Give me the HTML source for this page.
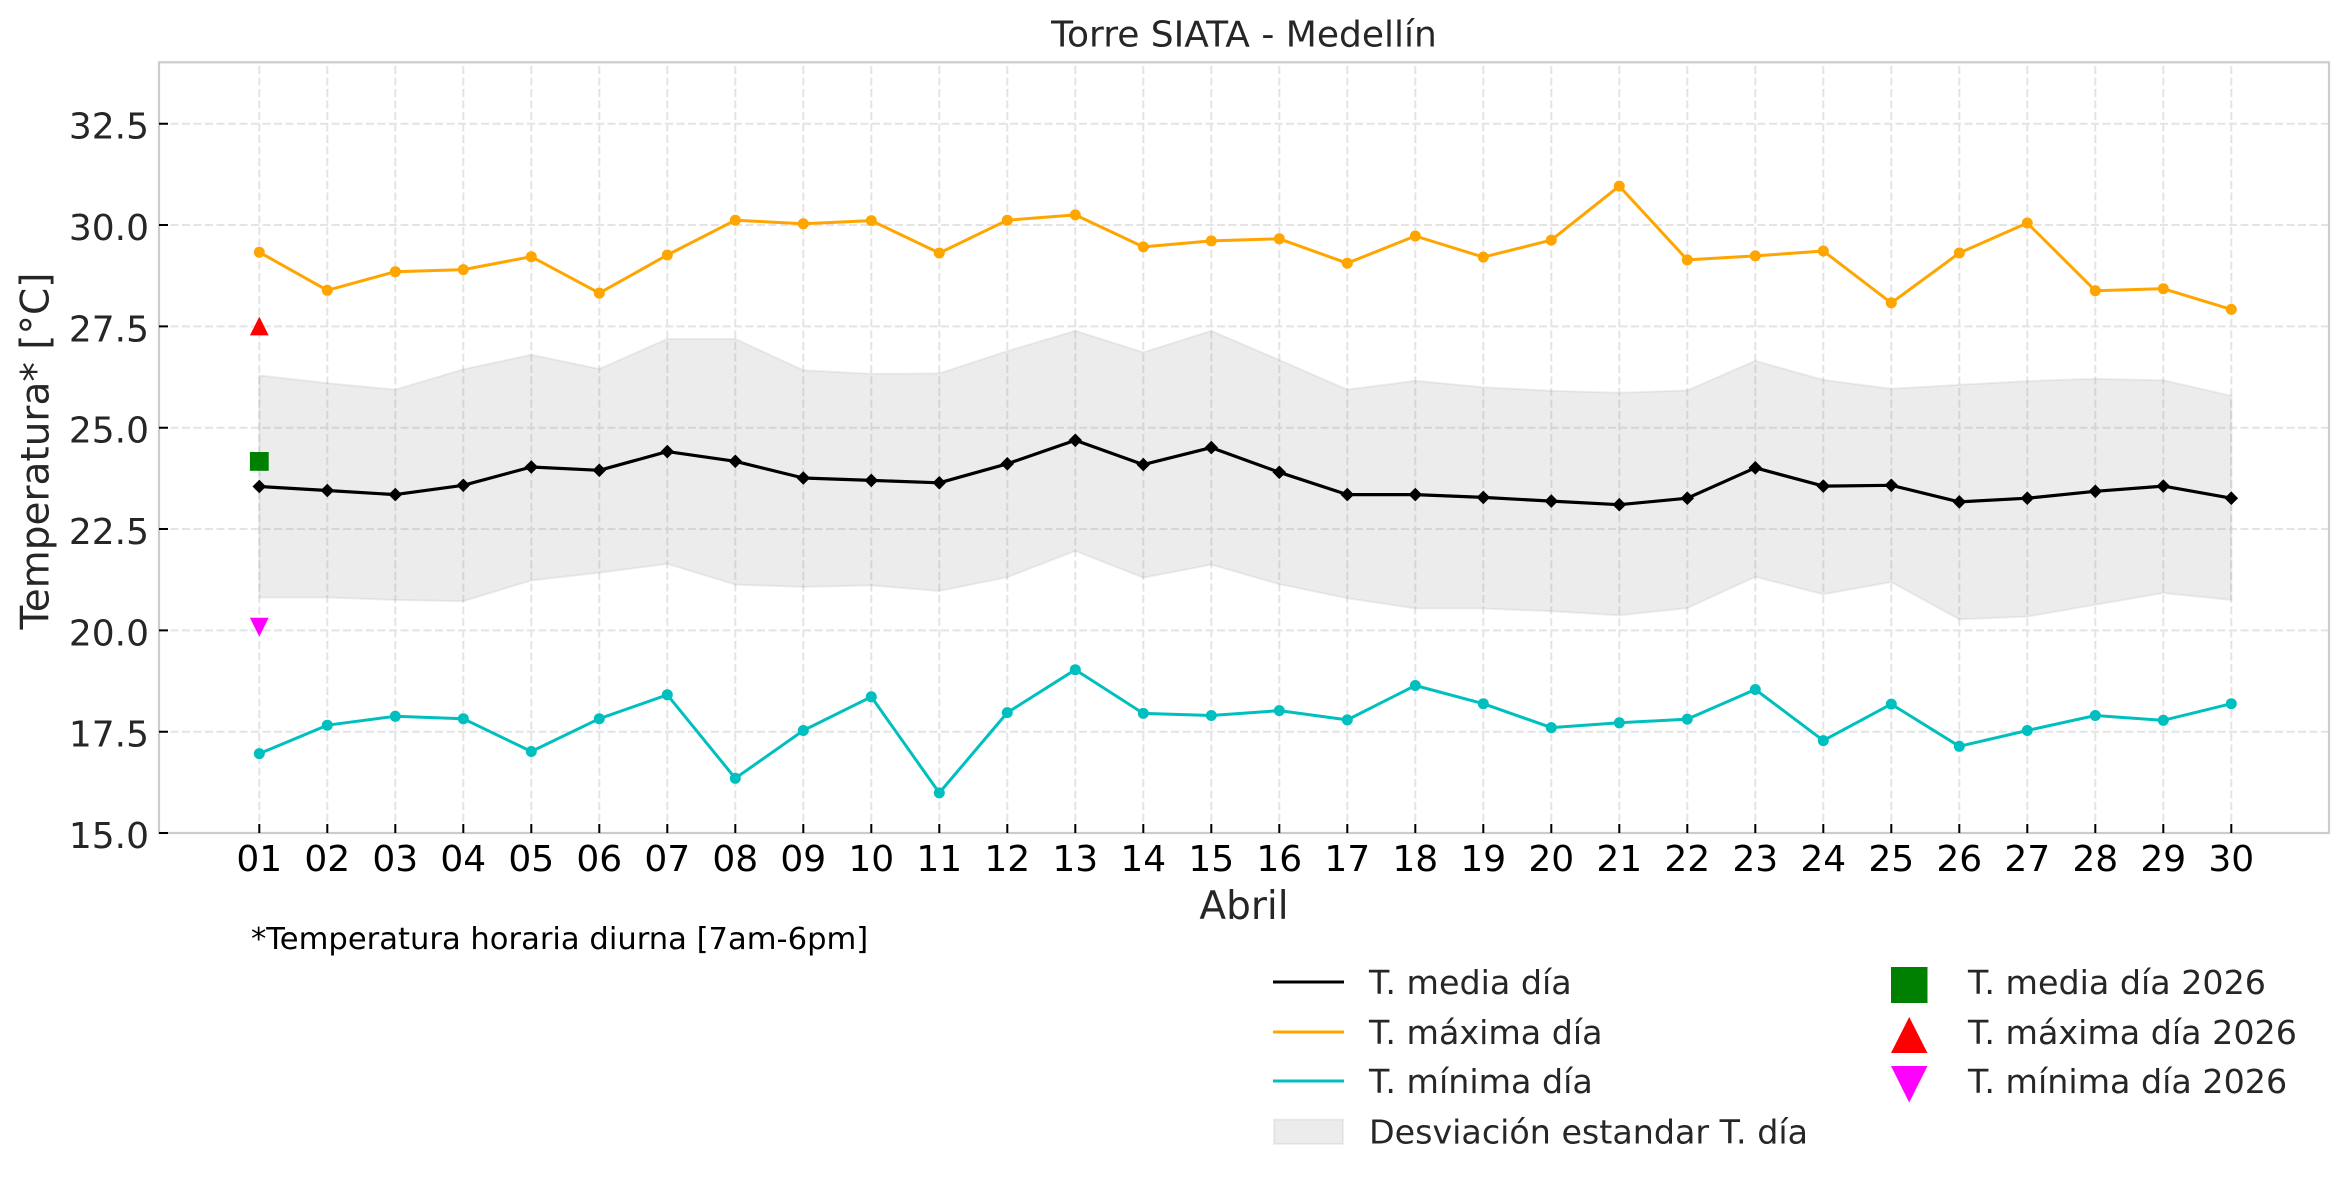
<!DOCTYPE html>
<html><head><meta charset="utf-8"><style>
html,body{margin:0;padding:0;background:#fff;}
svg{display:block;font-family:"DejaVu Sans","Liberation Sans",sans-serif;}
</style></head><body>
<svg width="2349" height="1183" viewBox="0 0 2349 1183" xmlns="http://www.w3.org/2000/svg">
<defs>
<path id="dm" d="M0,-6.8 L6.8,0 L0,6.8 L-6.8,0Z"/>
<circle id="oc" cx="0" cy="0" r="5.5"/>
</defs>
<rect width="2349" height="1183" fill="#fff"/>
<!-- grid -->
<g stroke="#e4e4e4" stroke-width="2" stroke-dasharray="8,3.5" fill="none">
<path d="M159,731.7H2329M159,630.35H2329M159,529.03H2329M159,427.7H2329M159,326.4H2329M159,225.05H2329M159,123.7H2329"/>
<path d="M259.3,833V62M327.3,833V62M395.3,833V62M463.3,833V62M531.3,833V62M599.3,833V62M667.3,833V62M735.3,833V62M803.3,833V62M871.3,833V62M939.3,833V62M1007.3,833V62M1075.3,833V62M1143.3,833V62M1211.3,833V62M1279.3,833V62M1347.3,833V62M1415.3,833V62M1483.3,833V62M1551.3,833V62M1619.3,833V62M1687.3,833V62M1755.3,833V62M1823.3,833V62M1891.3,833V62M1959.3,833V62M2027.3,833V62M2095.3,833V62M2163.3,833V62M2231.3,833V62"/>
</g>
<!-- band -->
<polygon fill="rgba(128,128,128,0.15)" stroke="rgba(128,128,128,0.12)" stroke-width="2" points="259.3,375.4 327.3,383.1 395.3,389.6 463.3,369.3 531.3,354.8 599.3,368.9 667.3,338.9 735.3,338.9 803.3,370.2 871.3,373.8 939.3,373.4 1007.3,351.1 1075.3,330.8 1143.3,352.3 1211.3,330.8 1279.3,360.0 1347.3,389.6 1415.3,380.7 1483.3,387.2 1551.3,390.8 1619.3,392.8 1687.3,390.4 1755.3,360.8 1823.3,379.9 1891.3,388.8 1959.3,384.7 2027.3,381.1 2095.3,378.7 2163.3,380.3 2231.3,395.7 2231.3,600.0 2163.3,593.1 2095.3,604.8 2027.3,616.6 1959.3,619.4 1891.3,582.1 1823.3,594.3 1755.3,576.9 1687.3,608.1 1619.3,615.4 1551.3,611.3 1483.3,608.5 1415.3,608.5 1347.3,598.3 1279.3,584.2 1211.3,564.7 1143.3,577.7 1075.3,550.9 1007.3,577.3 939.3,591.0 871.3,585.4 803.3,587.0 735.3,584.6 667.3,563.9 599.3,572.8 531.3,580.5 463.3,601.2 395.3,600.0 327.3,597.5 259.3,597.5"/>
<!-- spines -->
<rect x="159" y="62.3" width="2170" height="770.7" fill="none" stroke="#cccccc" stroke-width="2.2"/>
<!-- ticks -->
<g stroke="#000" stroke-width="2">
<path d="M159,833h9M159,731.7h9M159,630.35h9M159,529.03h9M159,427.7h9M159,326.4h9M159,225.05h9M159,123.7h9"/>
<path d="M259.3,833v-9M327.3,833v-9M395.3,833v-9M463.3,833v-9M531.3,833v-9M599.3,833v-9M667.3,833v-9M735.3,833v-9M803.3,833v-9M871.3,833v-9M939.3,833v-9M1007.3,833v-9M1075.3,833v-9M1143.3,833v-9M1211.3,833v-9M1279.3,833v-9M1347.3,833v-9M1415.3,833v-9M1483.3,833v-9M1551.3,833v-9M1619.3,833v-9M1687.3,833v-9M1755.3,833v-9M1823.3,833v-9M1891.3,833v-9M1959.3,833v-9M2027.3,833v-9M2095.3,833v-9M2163.3,833v-9M2231.3,833v-9"/>
</g>
<!-- max -->
<polyline fill="none" stroke="#ffa500" stroke-width="3" stroke-linejoin="round" points="259.3,252.2 327.3,290.3 395.3,271.7 463.3,269.6 531.3,256.7 599.3,293.1 667.3,255.0 735.3,220.2 803.3,223.8 871.3,220.6 939.3,253.0 1007.3,220.2 1075.3,214.9 1143.3,246.9 1211.3,240.9 1279.3,238.8 1347.3,263.2 1415.3,236.0 1483.3,257.1 1551.3,240.1 1619.3,186.1 1687.3,259.9 1755.3,255.9 1823.3,251.0 1891.3,302.9 1959.3,253.0 2027.3,223.0 2095.3,290.7 2163.3,288.7 2231.3,309.4"/>
<g fill="#ffa500">
<use href="#oc" x="259.3" y="252.2"/><use href="#oc" x="327.3" y="290.3"/><use href="#oc" x="395.3" y="271.7"/><use href="#oc" x="463.3" y="269.6"/><use href="#oc" x="531.3" y="256.7"/><use href="#oc" x="599.3" y="293.1"/><use href="#oc" x="667.3" y="255.0"/><use href="#oc" x="735.3" y="220.2"/><use href="#oc" x="803.3" y="223.8"/><use href="#oc" x="871.3" y="220.6"/><use href="#oc" x="939.3" y="253.0"/><use href="#oc" x="1007.3" y="220.2"/><use href="#oc" x="1075.3" y="214.9"/><use href="#oc" x="1143.3" y="246.9"/><use href="#oc" x="1211.3" y="240.9"/><use href="#oc" x="1279.3" y="238.8"/><use href="#oc" x="1347.3" y="263.2"/><use href="#oc" x="1415.3" y="236.0"/><use href="#oc" x="1483.3" y="257.1"/><use href="#oc" x="1551.3" y="240.1"/><use href="#oc" x="1619.3" y="186.1"/><use href="#oc" x="1687.3" y="259.9"/><use href="#oc" x="1755.3" y="255.9"/><use href="#oc" x="1823.3" y="251.0"/><use href="#oc" x="1891.3" y="302.9"/><use href="#oc" x="1959.3" y="253.0"/><use href="#oc" x="2027.3" y="223.0"/><use href="#oc" x="2095.3" y="290.7"/><use href="#oc" x="2163.3" y="288.7"/><use href="#oc" x="2231.3" y="309.4"/>
</g>
<!-- mean -->
<polyline fill="none" stroke="#000" stroke-width="3.2" stroke-linejoin="round" points="259.3,486.5 327.3,490.5 395.3,494.6 463.3,485.3 531.3,467.0 599.3,470.3 667.3,451.6 735.3,461.3 803.3,478.0 871.3,480.4 939.3,482.8 1007.3,463.8 1075.3,440.3 1143.3,464.6 1211.3,447.6 1279.3,472.3 1347.3,494.6 1415.3,494.6 1483.3,497.4 1551.3,501.1 1619.3,504.7 1687.3,498.2 1755.3,467.8 1823.3,486.1 1891.3,485.3 1959.3,501.9 2027.3,498.2 2095.3,491.3 2163.3,486.1 2231.3,498.2"/>
<g fill="#000">
<use href="#dm" x="259.3" y="486.5"/><use href="#dm" x="327.3" y="490.5"/><use href="#dm" x="395.3" y="494.6"/><use href="#dm" x="463.3" y="485.3"/><use href="#dm" x="531.3" y="467.0"/><use href="#dm" x="599.3" y="470.3"/><use href="#dm" x="667.3" y="451.6"/><use href="#dm" x="735.3" y="461.3"/><use href="#dm" x="803.3" y="478.0"/><use href="#dm" x="871.3" y="480.4"/><use href="#dm" x="939.3" y="482.8"/><use href="#dm" x="1007.3" y="463.8"/><use href="#dm" x="1075.3" y="440.3"/><use href="#dm" x="1143.3" y="464.6"/><use href="#dm" x="1211.3" y="447.6"/><use href="#dm" x="1279.3" y="472.3"/><use href="#dm" x="1347.3" y="494.6"/><use href="#dm" x="1415.3" y="494.6"/><use href="#dm" x="1483.3" y="497.4"/><use href="#dm" x="1551.3" y="501.1"/><use href="#dm" x="1619.3" y="504.7"/><use href="#dm" x="1687.3" y="498.2"/><use href="#dm" x="1755.3" y="467.8"/><use href="#dm" x="1823.3" y="486.1"/><use href="#dm" x="1891.3" y="485.3"/><use href="#dm" x="1959.3" y="501.9"/><use href="#dm" x="2027.3" y="498.2"/><use href="#dm" x="2095.3" y="491.3"/><use href="#dm" x="2163.3" y="486.1"/><use href="#dm" x="2231.3" y="498.2"/>
</g>
<!-- min -->
<polyline fill="none" stroke="#00bfbf" stroke-width="3" stroke-linejoin="round" points="259.3,753.6 327.3,725.2 395.3,716.3 463.3,718.7 531.3,751.5 599.3,718.7 667.3,694.8 735.3,778.3 803.3,730.5 871.3,696.8 939.3,792.9 1007.3,712.6 1075.3,669.7 1143.3,713.4 1211.3,715.5 1279.3,710.6 1347.3,719.9 1415.3,685.5 1483.3,703.7 1551.3,727.6 1619.3,722.8 1687.3,719.1 1755.3,689.5 1823.3,740.6 1891.3,704.1 1959.3,746.3 2027.3,730.5 2095.3,715.5 2163.3,720.3 2231.3,703.7"/>
<g fill="#00bfbf">
<use href="#oc" x="259.3" y="753.6"/><use href="#oc" x="327.3" y="725.2"/><use href="#oc" x="395.3" y="716.3"/><use href="#oc" x="463.3" y="718.7"/><use href="#oc" x="531.3" y="751.5"/><use href="#oc" x="599.3" y="718.7"/><use href="#oc" x="667.3" y="694.8"/><use href="#oc" x="735.3" y="778.3"/><use href="#oc" x="803.3" y="730.5"/><use href="#oc" x="871.3" y="696.8"/><use href="#oc" x="939.3" y="792.9"/><use href="#oc" x="1007.3" y="712.6"/><use href="#oc" x="1075.3" y="669.7"/><use href="#oc" x="1143.3" y="713.4"/><use href="#oc" x="1211.3" y="715.5"/><use href="#oc" x="1279.3" y="710.6"/><use href="#oc" x="1347.3" y="719.9"/><use href="#oc" x="1415.3" y="685.5"/><use href="#oc" x="1483.3" y="703.7"/><use href="#oc" x="1551.3" y="727.6"/><use href="#oc" x="1619.3" y="722.8"/><use href="#oc" x="1687.3" y="719.1"/><use href="#oc" x="1755.3" y="689.5"/><use href="#oc" x="1823.3" y="740.6"/><use href="#oc" x="1891.3" y="704.1"/><use href="#oc" x="1959.3" y="746.3"/><use href="#oc" x="2027.3" y="730.5"/><use href="#oc" x="2095.3" y="715.5"/><use href="#oc" x="2163.3" y="720.3"/><use href="#oc" x="2231.3" y="703.7"/>
</g>
<!-- 2026 markers -->
<polygon fill="#ff0000" points="259.3,316.6 249.9,335.4 268.7,335.4"/>
<rect x="249.9" y="452" width="18.8" height="18.8" fill="#008000"/>
<polygon fill="#ff00ff" points="249.9,617.8 268.7,617.8 259.3,636.6"/>
<!-- y tick labels -->
<g font-size="36" fill="#262626" text-anchor="end">
<text x="149" y="848">15.0</text>
<text x="149" y="746.7">17.5</text>
<text x="149" y="645.4">20.0</text>
<text x="149" y="544">22.5</text>
<text x="149" y="442.7">25.0</text>
<text x="149" y="341.4">27.5</text>
<text x="149" y="240">30.0</text>
<text x="149" y="138.7">32.5</text>
</g>
<!-- x tick labels -->
<g font-size="36" fill="#000" text-anchor="middle">
<text x="259.3" y="871">01</text><text x="327.3" y="871">02</text><text x="395.3" y="871">03</text><text x="463.3" y="871">04</text><text x="531.3" y="871">05</text><text x="599.3" y="871">06</text><text x="667.3" y="871">07</text><text x="735.3" y="871">08</text><text x="803.3" y="871">09</text><text x="871.3" y="871">10</text><text x="939.3" y="871">11</text><text x="1007.3" y="871">12</text><text x="1075.3" y="871">13</text><text x="1143.3" y="871">14</text><text x="1211.3" y="871">15</text><text x="1279.3" y="871">16</text><text x="1347.3" y="871">17</text><text x="1415.3" y="871">18</text><text x="1483.3" y="871">19</text><text x="1551.3" y="871">20</text><text x="1619.3" y="871">21</text><text x="1687.3" y="871">22</text><text x="1755.3" y="871">23</text><text x="1823.3" y="871">24</text><text x="1891.3" y="871">25</text><text x="1959.3" y="871">26</text><text x="2027.3" y="871">27</text><text x="2095.3" y="871">28</text><text x="2163.3" y="871">29</text><text x="2231.3" y="871">30</text>
</g>
<!-- title & labels -->
<text x="1244" y="46.5" font-size="36" fill="#262626" text-anchor="middle">Torre SIATA - Medellín</text>
<text x="1244" y="919" font-size="39" fill="#262626" text-anchor="middle">Abril</text>
<text transform="translate(48.5,451) rotate(-90)" font-size="39" fill="#262626" text-anchor="middle">Temperatura* [°C]</text>
<text x="251" y="949" font-size="30.6" fill="#000">*Temperatura horaria diurna [7am-6pm]</text>
<!-- legend -->
<g font-size="33.3" fill="#262626">
<line x1="1273" y1="982" x2="1344" y2="982" stroke="#000" stroke-width="3"/>
<text x="1369" y="994">T. media día</text>
<line x1="1273" y1="1032" x2="1344" y2="1032" stroke="#ffa500" stroke-width="3"/>
<text x="1369" y="1044">T. máxima día</text>
<line x1="1273" y1="1081" x2="1344" y2="1081" stroke="#00bfbf" stroke-width="3"/>
<text x="1369" y="1093">T. mínima día</text>
<rect x="1274" y="1119.5" width="69" height="24.5" fill="rgba(128,128,128,0.15)" stroke="rgba(128,128,128,0.12)" stroke-width="2"/>
<text x="1369" y="1143.5">Desviación estandar T. día</text>
<rect x="1891" y="967" width="36.5" height="36" fill="#008000"/>
<text x="1968" y="994">T. media día 2026</text>
<polygon fill="#ff0000" points="1909.2,1017 1891,1053 1927.5,1053"/>
<text x="1968" y="1044">T. máxima día 2026</text>
<polygon fill="#ff00ff" points="1891,1066 1927.5,1066 1909.2,1102.5"/>
<text x="1968" y="1093">T. mínima día 2026</text>
</g>
</svg>
</body></html>
